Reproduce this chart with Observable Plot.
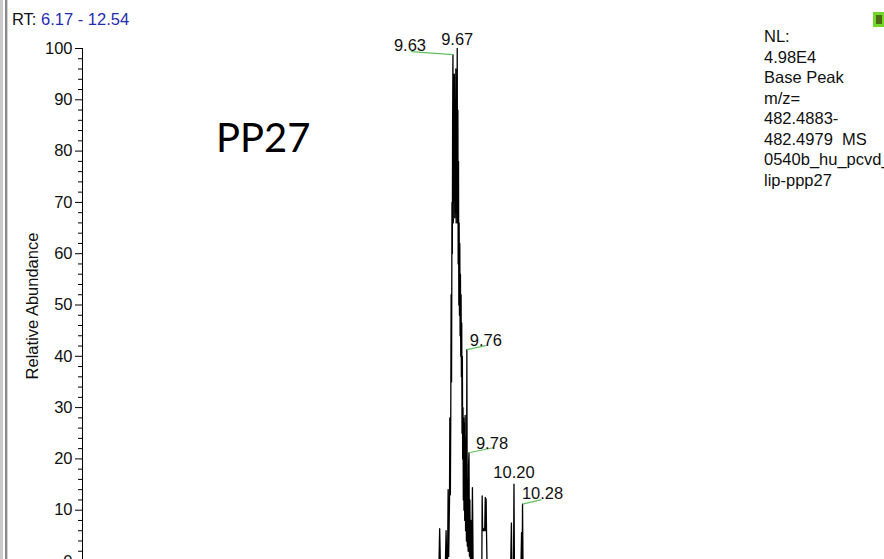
<!DOCTYPE html>
<html><head><meta charset="utf-8">
<script src="https://cdn.jsdelivr.net/npm/d3@7"></script>
<script src="https://cdn.jsdelivr.net/npm/@observablehq/plot@0.6"></script>
<style>
html,body{margin:0;padding:0;background:#fff;}
#chart{position:relative;width:884px;height:559px;overflow:hidden;}
</style></head><body><div id="chart"></div>
<script>
// ---- data ----
const rtRange = [6.17, 12.54];
const traceRT = [6.17, 9.500, 9.506, 9.512, 9.560, 9.566, 9.572, 9.580, 9.585, 9.590, 9.598, 9.601, 9.606, 9.610, 9.613, 9.617,
  9.621, 9.624, 9.627, 9.630, 9.633, 9.636, 9.640, 9.643, 9.647, 9.650, 9.653, 9.657, 9.660, 9.664, 9.667, 9.670,
  9.673, 9.676, 9.679, 9.682, 9.685, 9.688, 9.691, 9.694, 9.697, 9.700, 9.703, 9.706, 9.709, 9.712, 9.715, 9.718,
  9.721, 9.724, 9.727, 9.730, 9.733, 9.736, 9.740, 9.744, 9.748, 9.752, 9.756, 9.760, 9.764, 9.768, 9.772, 9.776,
  9.780, 9.784, 9.788, 9.793, 9.797, 9.806, 9.812, 9.818, 9.822, 9.890, 9.900, 9.903, 9.907, 9.911, 9.915, 9.919,
  9.923, 9.927, 9.932, 9.936, 9.940, 9.944, 9.948, 10.170, 10.176, 10.180, 10.196, 10.200, 10.204, 10.266, 10.271,
  10.275, 10.277, 10.280, 10.284, 12.54];
const traceAbund = [0, 0, 6.4, 0, 0, 6, 0, 0, 14, 1, 12, 28, 13, 30, 52, 35,
  70, 60, 85, 98.8, 66, 93, 70, 95, 67, 90, 68, 96, 66, 92, 68, 100,
  66, 88, 58, 78, 50, 66, 48, 62, 44, 56, 40, 52, 36, 46.5, 25, 40,
  20, 30, 12, 28, 10, 27, 8, 28.5, 6, 24, 4, 41.3, 3, 16, 2, 19,
  21.2, 1, 12, 0, 8, 0, 14.4, 0, 0, 0, 0, 12.8, 6, 6.5, 6, 6.3,
  6, 6.5, 12.5, 6, 12.2, 5, 0, 0, 7.5, 0, 0, 15.1, 0, 0, 5.6,
  0, 0, 11.2, 0, 0];
const peakRT = [9.63, 9.67, 9.76, 9.78, 10.20, 10.28];
const peakAbund = [98.8, 100, 41.3, 21.2, 15.1, 11.2];
const yMajorTicks = [0, 10, 20, 30, 40, 50, 60, 70, 80, 90, 100];
const yMinorTicks = [2, 4, 6, 8, 12, 14, 16, 18, 22, 24, 26, 28, 32, 34, 36, 38, 42, 44, 46, 48,
  52, 54, 56, 58, 62, 64, 66, 68, 72, 74, 76, 78, 82, 84, 86, 88, 92, 94, 96, 98];
const yLabel = "Relative Abundance";
const sampleTitle = "PP27";
const infoLines = ["NL:", "4.98E4", "Base Peak", "m/z=", "482.4883-", "482.4979  MS", "0540b_hu_pcvd_", "lip-ppp27"];

// ---- layout / style (pixel offsets of peak labels and leaders) ----
const xRange = [82, 764], yRange = [561, 48];
const pxPerMin = (xRange[1] - xRange[0]) / (rtRange[1] - rtRange[0]);
const pxPerPct = (yRange[0] - yRange[1]) / 100;
const labelOffsets = [
  {dx: -43, dy: -4, leader: [-42, -3]},
  {dx: 0, dy: -4, leader: null},
  {dx: 19, dy: -4, leader: [19, -4]},
  {dx: 23, dy: -4, leader: [24, -5]},
  {dx: 0, dy: -6, leader: null},
  {dx: 20, dy: -5, leader: [19, -4.5]}
];
const FONT = "'Liberation Sans', Arial, sans-serif";
const FS = 16.5;

const peaks = peakRT.map((rt, i) => ({rt, ab: peakAbund[i], label: rt.toFixed(2), ...labelOffsets[i]}));
const leaders = peaks.filter(p => p.leader);

const marks = [
  Plot.ruleX([rtRange[0]], {stroke: "#000", strokeWidth: 1}),
  Plot.axisY(yMinorTicks, {tickSize: 4, tickFormat: () => "", label: null, stroke: "#000"}),
  Plot.axisY(yMajorTicks, {tickSize: 7, tickPadding: 3, label: null, fontSize: FS, stroke: "#000", fill: "#111"}),
  Plot.text([yLabel], {frameAnchor: "left", rotate: -90, dx: -50, dy: 2, textAnchor: "middle", fontSize: FS, fill: "#111"}),
  Plot.line(traceAbund, {x: traceRT, y: traceAbund, stroke: "#000", strokeWidth: 1.3}),
  Plot.link(leaders, {x1: "rt", y1: "ab", x2: d => d.rt + d.leader[0] / pxPerMin, y2: d => d.ab - d.leader[1] / pxPerPct,
    stroke: "#62c062", strokeWidth: 1.2})
];
peaks.forEach(p => {
  marks.push(Plot.text([p], {x: "rt", y: "ab", text: "label", dx: p.dx, dy: p.dy, lineAnchor: "bottom",
    textAnchor: "middle", fontSize: FS, fill: "#111"}));
});

const svg = Plot.plot({
  width: 884, height: 559,
  marginLeft: 82, marginRight: 120, marginTop: 48, marginBottom: 0,
  x: {domain: rtRange, range: xRange, axis: null},
  y: {domain: [0, 100], range: yRange},
  style: {fontFamily: FONT, fontSize: FS + "px", background: "#fff", color: "#111", overflow: "hidden"},
  marks
});

const s = d3.select(svg);
// window border on the left
s.append("rect").attr("x", 0).attr("y", 0).attr("width", 3).attr("height", 559).attr("fill", "#cacaca");
s.append("rect").attr("x", 5).attr("y", 0).attr("width", 2).attr("height", 559).attr("fill", "#8a8a8a");
s.append("rect").attr("x", 7).attr("y", 0).attr("width", 1).attr("height", 559).attr("fill", "#d4d4d4");
// RT range header
const rt = s.append("text").attr("x", 12).attr("y", 25).attr("text-anchor", "start")
  .attr("font-family", FONT).attr("font-size", FS);
rt.append("tspan").attr("fill", "#111").text("RT: ");
rt.append("tspan").attr("fill", "#1f2db0").text(`${rtRange[0].toFixed(2)} - ${rtRange[1].toFixed(2)}`);
// sample title
s.append("text").attr("x", 216).attr("y", 152).attr("text-anchor", "start")
  .attr("font-family", "Lato, 'Open Sans', sans-serif")
  .attr("font-size", 40).attr("fill", "#000").text(sampleTitle);
// info block
infoLines.forEach((t, i) => {
  s.append("text").attr("x", 764).attr("y", 42 + i * 20.5).attr("text-anchor", "start")
    .attr("font-family", FONT).attr("font-size", FS)
    .attr("fill", "#111").style("white-space", "pre").text(t);
});
// small green marker at top right
s.append("rect").attr("x", 873).attr("y", 12).attr("width", 12).attr("height", 15).attr("fill", "#74d82a");
s.append("rect").attr("x", 876).attr("y", 15).attr("width", 6).attr("height", 9).attr("fill", "#4a6a18");

document.getElementById("chart").appendChild(svg);
</script></body></html>
